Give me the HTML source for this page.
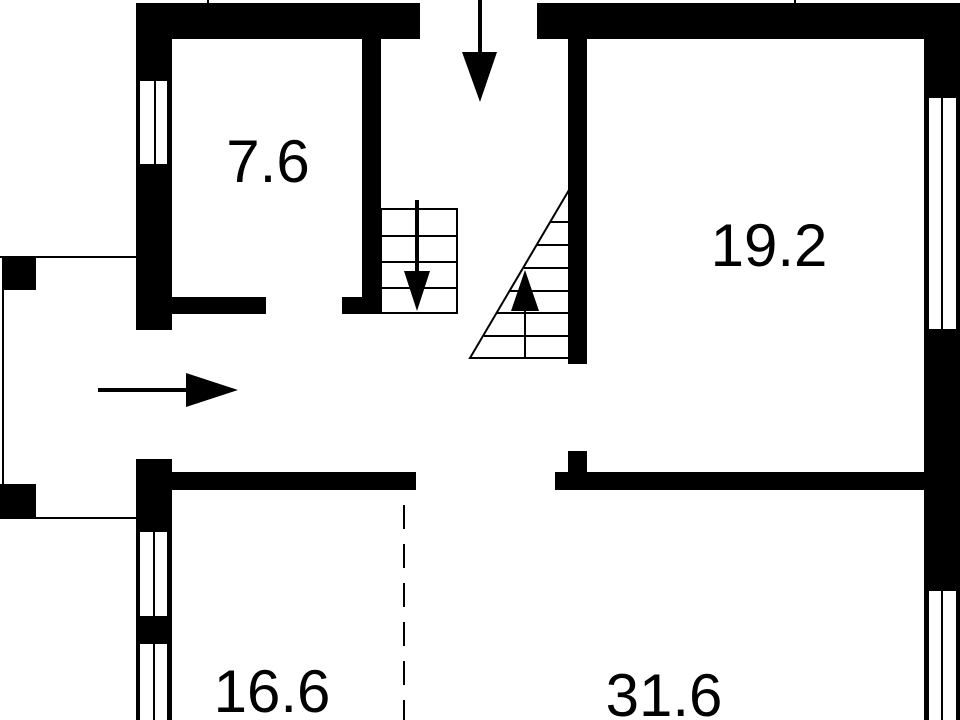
<!DOCTYPE html>
<html><head><meta charset="utf-8"><style>
html,body{margin:0;padding:0;background:#fff;width:960px;height:720px;overflow:hidden}
svg text{font-family:"Liberation Sans",sans-serif;fill:#000}
</style></head><body>
<svg width="960" height="720" viewBox="0 0 960 720" xmlns="http://www.w3.org/2000/svg">
<g fill="#000">
<rect x="136" y="3" width="284" height="36"/>
<rect x="136" y="3" width="36" height="327"/>
<rect x="362" y="38" width="19" height="275"/>
<rect x="172" y="297" width="94" height="17"/>
<rect x="342" y="297" width="39" height="17"/>
<rect x="537" y="3" width="423" height="36"/>
<rect x="568" y="38" width="19" height="326"/>
<rect x="924" y="3" width="36" height="717"/>
<rect x="136" y="459" width="36" height="261"/>
<rect x="172" y="472" width="244" height="18"/>
<rect x="555" y="472" width="369" height="18"/>
<rect x="568" y="451" width="19" height="22"/>
<rect x="3" y="257" width="33" height="33"/>
<rect x="0" y="484" width="36" height="34"/>
</g>
<g fill="#fff" stroke="#000" stroke-width="2">
<rect x="139" y="80" width="29" height="85"/><line x1="155" y1="80" x2="155" y2="165"/>
<rect x="139" y="531" width="29" height="86"/><line x1="154" y1="531" x2="154" y2="617"/>
<rect x="139" y="643" width="29" height="80"/><line x1="154" y1="643" x2="154" y2="720"/>
<rect x="928" y="97" width="29" height="233"/><line x1="942" y1="97" x2="942" y2="330"/>
<rect x="928" y="590" width="29" height="133"/><line x1="942" y1="590" x2="942" y2="720"/>
</g>
<g stroke="#000" stroke-width="2" fill="none">
<line x1="0" y1="257" x2="136" y2="257"/>
<line x1="0" y1="518" x2="136" y2="518"/>
<line x1="3" y1="257" x2="3" y2="518"/>
<line x1="208" y1="0" x2="208" y2="4"/>
<line x1="795" y1="0" x2="795" y2="4"/>
<rect x="381" y="209" width="76" height="104"/>
<line x1="381" y1="236" x2="457" y2="236"/>
<line x1="381" y1="262" x2="457" y2="262"/>
<line x1="381" y1="288" x2="457" y2="288"/>
<polygon points="569,190 470,358 569,358"/>
<line x1="550" y1="222" x2="569" y2="222"/>
<line x1="537" y1="245" x2="569" y2="245"/>
<line x1="524" y1="268" x2="569" y2="268"/>
<line x1="510" y1="291" x2="569" y2="291"/>
<line x1="497" y1="313" x2="569" y2="313"/>
<line x1="484" y1="336" x2="569" y2="336"/>
<line x1="525" y1="300" x2="525" y2="358"/>
<line x1="404" y1="505" x2="404" y2="720" stroke-dasharray="24,15"/>
</g>
<g stroke="#000" stroke-width="4">
<line x1="417" y1="200" x2="417" y2="280"/>
<line x1="480" y1="0" x2="480" y2="60"/>
<line x1="98" y1="390" x2="190" y2="390"/>
</g>
<g fill="#000">
<polygon points="404,271 430,271 417,311"/>
<polygon points="462,52 497,52 480,102"/>
<polygon points="186,373 186,407 238,390"/>
<polygon points="525,270 511,311 539,311"/>
</g>
<text x="268" y="182" font-size="60" text-anchor="middle">7.6</text>
<text x="769" y="266" font-size="60" text-anchor="middle">19.2</text>
<text x="272" y="712" font-size="60" text-anchor="middle">16.6</text>
<text x="664" y="716" font-size="60" text-anchor="middle">31.6</text>
</svg>
</body></html>
